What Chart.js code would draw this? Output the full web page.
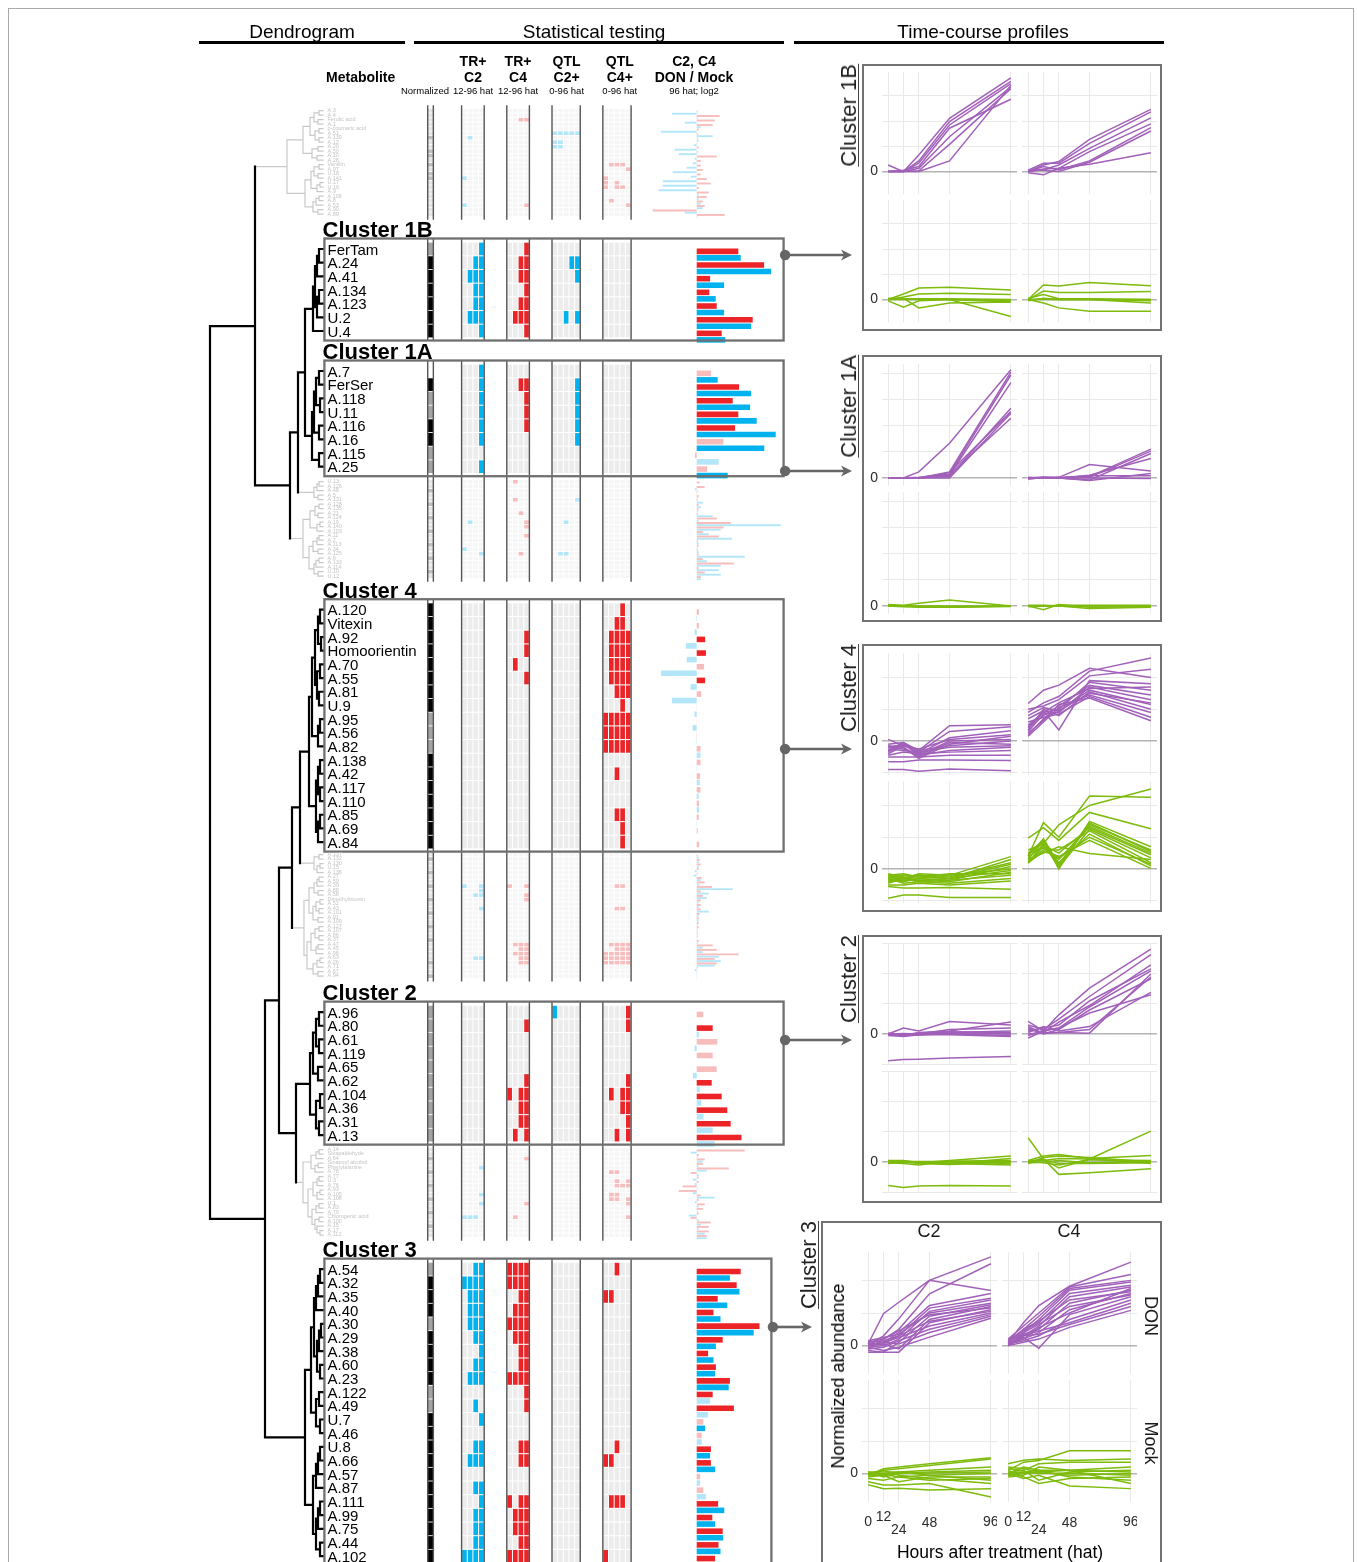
<!DOCTYPE html>
<html>
<head>
<meta charset="utf-8">
<title>Metabolite clusters</title>
<script src="https://cdn.jsdelivr.net/npm/chart.js@4.4.1/dist/chart.umd.min.js"></script>
<style>
  html, body { margin: 0; padding: 0; background: #fff; }
  #page { position: relative; width: 1357px; height: 1562px; overflow: hidden;
          font-family: "Liberation Sans", Arial, sans-serif; color: #000; }
  #page div, #page canvas { position: absolute; }
  .t { white-space: nowrap; line-height: 1; }
</style>
</head>
<body>
<div id="page"></div>
<script>
// ---------- data ----------
// row = [label, normalized class, TR+C2, TR+C4, QTL C2+, QTL C4+, DON/Mock C4 (red), DON/Mock C2 (blue), significance red/blue]
const cluster1B = [
  ['FerTam', 1, '0001', '0001', '00000', '00000', 2.08, 2.2, 'SS'],
  ['A.24', 2, '0011', '0011', '00011', '00000', 3.37, 3.72, 'SS'],
  ['A.41', 2, '0111', '0011', '00001', '00000', 0.67, 1.37, 'SS'],
  ['A.134', 2, '0011', '0001', '00000', '00000', 0.63, 0.95, 'SS'],
  ['A.123', 2, '0011', '0011', '00000', '00000', 1.0, 1.37, 'SS'],
  ['U.2', 2, '0111', '0111', '00101', '00000', 2.8, 2.72, 'SS'],
  ['U.4', 2, '0001', '0001', '00000', '00000', 1.25, 1.43, 'SS']
];
const cluster1A = [
  ['A.7', 0, '0001', '0000', '00000', '00000', 0.72, 1.05, 'sS'],
  ['FerSer', 2, '0001', '0011', '00001', '00000', 2.12, 2.72, 'SS'],
  ['A.118', 1, '0001', '0001', '00001', '00000', 1.8, 2.67, 'SS'],
  ['U.11', 1, '0001', '0001', '00001', '00000', 2.08, 3.0, 'SS'],
  ['A.116', 2, '0001', '0001', '00001', '00000', 1.92, 3.95, 'SS'],
  ['A.16', 2, '0001', '0000', '00001', '00000', 1.33, 3.38, 'sS'],
  ['A.115', 1, '0000', '0000', '00000', '00000', -0.08, 1.1, 'ss'],
  ['A.25', 1, '0001', '0000', '00000', '00000', 0.52, 1.55, 'sS']
];
const cluster4 = [
  ['A.120', 2, '0000', '0000', '00000', '00010', 0.11, -0.03, 'ss'],
  ['Vitexin', 2, '0000', '0000', '00000', '00110', 0.11, -0.11, 'ss'],
  ['A.92', 2, '0000', '0001', '00000', '01111', 0.42, -0.54, 'Ss'],
  ['Homoorientin', 2, '0000', '0001', '00000', '01111', 0.46, -0.5, 'Ss'],
  ['A.70', 2, '0000', '0100', '00000', '01111', 0.37, -1.78, 'ss'],
  ['A.55', 2, '0000', '0001', '00000', '01111', 0.42, -0.31, 'Ss'],
  ['A.81', 2, '0000', '0000', '00000', '00111', 0.23, -1.24, 'ss'],
  ['U.9', 2, '0000', '0000', '00000', '00010', 0.01, -0.11, 'ss'],
  ['A.95', 1, '0000', '0000', '00000', '11111', 0.01, -0.21, 'ss'],
  ['A.56', 1, '0000', '0000', '00000', '11111', 0.02, -0.02, 'ss'],
  ['A.82', 1, '0000', '0000', '00000', '11111', 0.19, 0.19, 'ss'],
  ['A.138', 2, '0000', '0000', '00000', '00000', 0.19, 0.02, 'ss'],
  ['A.42', 2, '0000', '0000', '00000', '00100', 0.17, 0.15, 'ss'],
  ['A.117', 2, '0000', '0000', '00000', '00000', 0.19, 0.1, 'ss'],
  ['A.110', 2, '0000', '0000', '00000', '00000', 0.12, 0.12, 'ss'],
  ['A.85', 2, '0000', '0000', '00000', '00110', 0.1, 0.02, 'ss'],
  ['A.69', 2, '0000', '0000', '00000', '00010', 0.05, 0.0, 'ss'],
  ['A.84', 2, '0000', '0000', '00000', '00010', 0.12, 0.0, 'ss']
];
const cluster2 = [
  ['A.96', 1, '0000', '0000', '10000', '00001', 0.33, 0.0, 'ss'],
  ['A.80', 1, '0000', '0001', '00000', '00001', 0.8, 0.11, 'Ss'],
  ['A.61', 1, '0000', '0000', '00000', '00000', 1.03, -0.11, 'ss'],
  ['A.119', 1, '0000', '0000', '00000', '00000', 0.8, 0.0, 'ss'],
  ['A.65', 1, '0000', '0000', '00000', '00000', 1.0, -0.19, 'ss'],
  ['A.62', 1, '0000', '0001', '00000', '00001', 0.75, 0.15, 'Ss'],
  ['A.104', 1, '0000', '1011', '00000', '01011', 1.25, 0.23, 'Ss'],
  ['A.36', 1, '0000', '0011', '00000', '00011', 1.53, 0.34, 'Ss'],
  ['A.31', 1, '0000', '0011', '00000', '00001', 1.7, 0.8, 'Ss'],
  ['A.13', 1, '0000', '0101', '00000', '00101', 2.24, 0.9, 'Ss']
];
const cluster3 = [
  ['A.54', 1, '0011', '1111', '00000', '00100', 2.2, 1.66, 'SS'],
  ['A.32', 2, '1111', '1111', '00000', '00000', 2.0, 2.14, 'SS'],
  ['A.35', 2, '0111', '0011', '00000', '11000', 1.05, 1.53, 'SS'],
  ['A.40', 2, '0111', '0111', '00000', '00000', 0.84, 1.19, 'SS'],
  ['A.30', 1, '0111', '1111', '00000', '00000', 3.14, 2.85, 'SS'],
  ['A.29', 2, '0011', '0111', '00000', '00000', 1.3, 0.96, 'SS'],
  ['A.38', 2, '0001', '0011', '00000', '00000', 0.57, 0.84, 'SS'],
  ['A.60', 2, '0011', '0011', '00000', '00000', 0.96, 0.92, 'SS'],
  ['A.23', 2, '0111', '1111', '00000', '00000', 1.66, 1.6, 'SS'],
  ['A.122', 1, '0000', '0001', '00000', '00000', 0.8, 0.67, 'Ss'],
  ['A.49', 1, '0010', '0001', '00000', '00000', 1.86, 0.57, 'Ss'],
  ['U.7', 2, '0001', '0000', '00000', '00000', 0.33, 0.42, 'sS'],
  ['A.46', 2, '0000', '0000', '00000', '00000', 0.25, 0.25, 'ss'],
  ['U.8', 2, '0011', '0011', '00000', '00100', 0.71, 0.67, 'SS'],
  ['A.66', 2, '0111', '0011', '00000', '11000', 0.71, 0.92, 'SS'],
  ['A.57', 2, '0000', '0000', '00000', '00000', 0.17, 0.17, 'ss'],
  ['A.87', 2, '0011', '0000', '00000', '00000', 0.33, 0.46, 'ss'],
  ['A.111', 2, '0001', '1011', '00000', '01110', 1.07, 1.38, 'SS'],
  ['A.99', 2, '0011', '0111', '00000', '00000', 0.78, 0.92, 'SS'],
  ['A.75', 2, '0011', '0111', '00000', '00000', 1.3, 1.32, 'SS'],
  ['A.44', 2, '0011', '0011', '00000', '00000', 1.09, 1.19, 'SS'],
  ['A.102', 2, '1111', '1111', '00000', '10000', 0.92, 0.84, 'SS']
];
// unclustered (grey) groups
const grayG1 = [
  ['A.3', 0, '0000', '0000', '00000', '00000', 0.05, -1.24],
  ['A.4', 0, '0000', '0000', '00000', '00000', 1.15, 0.05],
  ['Ferulic acid', 0, '0000', '0011', '00000', '00000', 0.9, -0.6],
  ['A.1', 0, '0000', '0000', '00000', '00000', 0.8, 0.2],
  ['p-coumaric acid', 0, '0000', '0000', '00000', '00000', 0.1, -1.8],
  ['A.51', 0, '0000', '0000', '11111', '00000', 0.05, 0.8],
  ['A.139', 1, '0100', '0000', '00000', '00000', 0.05, 0.1],
  ['A.12', 0, '0000', '0000', '11000', '00000', 0.02, -0.15],
  ['A.20', 0, '0000', '0000', '11000', '00000', 0.1, -1.1],
  ['A.50', 1, '0000', '0000', '00000', '00000', 0.05, -0.9],
  ['A.10', 1, '0000', '0000', '00000', '00000', 1.0, -0.1],
  ['A.28', 0, '0000', '0000', '00000', '00000', 0.2, -0.2],
  ['Vanillin', 1, '0000', '0000', '00000', '01110', 0.2, -0.5],
  ['A.97', 0, '0000', '0000', '00000', '00001', 0.3, -1.2],
  ['U.18', 1, '0000', '0000', '00000', '00000', 0.2, -0.3],
  ['A.141', 1, '1000', '0000', '00000', '10000', 0.5, -1.7],
  ['U.17', 0, '0000', '0000', '00000', '10100', 0.7, -1.7],
  ['U.16', 0, '0000', '0000', '00000', '10110', 0.1, -1.9],
  ['A.9', 0, '0000', '0000', '00000', '00000', 0.6, 0.1],
  ['A.106', 0, '0000', '0000', '00000', '00000', 0.5, 0.1],
  ['A.8', 0, '0000', '0000', '00000', '01000', 0.3, 0.2],
  ['A.53', 0, '1000', '0001', '00000', '00001', 0.4, 0.3],
  ['A.90', 0, '0000', '0000', '00000', '00000', -2.2, -0.6],
  ['A.89', 0, '0000', '0000', '00000', '00000', 1.4, 0.05]
];
const grayG2 = [
  ['U.13', 0, '0000', '0100', '00000', '00000', 0.15, 0.0],
  ['A.126', 0, '0000', '0000', '00000', '00000', 0.4, -0.1],
  ['A.48', 1, '0000', '0000', '00000', '00000', 0.05, 0.02],
  ['A.5', 0, '0000', '0000', '00000', '00000', 0.1, 0.05],
  ['A.131', 0, '0000', '0100', '00001', '00000', 0.05, 0.3],
  ['A.128', 1, '0000', '0000', '00000', '00000', 0.1, 0.2],
  ['A.135', 0, '0000', '0000', '00000', '00000', 0.1, 0.05],
  ['A.21', 0, '0000', '0010', '00000', '00000', 0.05, 0.8],
  ['A.124', 1, '0000', '0000', '00000', '00000', 1.0, 0.1],
  ['A.19', 0, '0100', '0001', '00100', '00000', 1.7, 4.2],
  ['A.140', 0, '0000', '0001', '00000', '00000', 1.35, 1.2],
  ['A.103', 1, '0000', '0000', '00000', '00000', 0.3, 0.6],
  ['A.11', 0, '0000', '0001', '00000', '00000', 1.1, 1.76],
  ['A.2', 0, '0000', '0000', '00000', '00000', 0.05, 0.1],
  ['A.113', 1, '0000', '0000', '00000', '00000', 0.1, 0.05],
  ['A.34', 0, '1000', '0000', '00000', '00000', 0.05, 0.1],
  ['A.125', 0, '0001', '0010', '01100', '00000', 0.1, 2.4],
  ['A.6', 1, '0000', '0000', '00000', '00000', 0.3, 0.5],
  ['A.133', 0, '0000', '0000', '00000', '00000', 1.85, 1.2],
  ['A.114', 0, '0000', '0000', '00000', '00000', 0.1, 1.1],
  ['U.10', 1, '0000', '0000', '00000', '00000', 0.4, 1.2],
  ['U.12', 0, '0000', '0000', '00000', '00000', 0.2, 0.2]
];
const grayG3 = [
  ['A.137', 0, '0000', '0000', '00000', '00000', 0.05, 0.1],
  ['A.132', 1, '0000', '0000', '00000', '00000', 0.15, 0.1],
  ['A.130', 0, '0000', '0000', '00000', '00000', 0.2, 0.1],
  ['U.15', 0, '0000', '0000', '00000', '00000', 0.1, -0.1],
  ['A.136', 1, '0000', '0000', '00000', '00000', 0.05, -0.15],
  ['A.27', 0, '0000', '0000', '00000', '00000', 0.25, 0.2],
  ['A.59', 0, '0000', '0000', '00000', '00000', 0.4, 0.15],
  ['A.39', 1, '1001', '1001', '00000', '00110', 0.77, 1.8],
  ['A.88', 0, '0001', '0000', '00000', '00000', 0.2, 0.6],
  ['A.58', 0, '0011', '0001', '00000', '00000', 0.3, 0.5],
  ['Dimethyltricetin', 1, '0000', '0001', '00000', '00000', 0.2, 0.1],
  ['A.52', 0, '0000', '0000', '00000', '00000', 0.2, 0.1],
  ['A.43', 0, '0001', '0000', '00000', '00110', 0.2, 0.6],
  ['A.101', 1, '0000', '0000', '00000', '00000', 0.15, 0.1],
  ['A.91', 0, '0000', '0000', '00000', '00000', 0.1, 0.1],
  ['A.109', 0, '0000', '0000', '00000', '00000', 0.1, 0.05],
  ['A.127', 1, '0000', '0000', '00000', '00000', 0.1, 0.05],
  ['A.107', 0, '0000', '0000', '00000', '00000', 0.05, 0.05],
  ['A.86', 0, '0000', '0000', '00000', '00000', 0.05, 0.02],
  ['A.37', 1, '0000', '0000', '00000', '00000', 0.1, 0.05],
  ['A.47', 0, '0000', '0111', '00000', '01111', 0.8, 0.3],
  ['A.45', 0, '0000', '0011', '00000', '00111', 1.0, 0.3],
  ['A.98', 0, '0000', '0111', '00000', '11111', 2.1, 1.1],
  ['A.63', 0, '0011', '0011', '00000', '11111', 0.9, 1.2],
  ['A.26', 1, '0000', '0011', '00000', '11111', 1.0, 0.9],
  ['A.71', 0, '0000', '0000', '00000', '00000', 0.05, -0.1],
  ['A.67', 0, '0000', '0000', '00000', '00000', 0.02, 0.02],
  ['A.94', 1, '0000', '0000', '00000', '00000', 0.01, 0.01]
];
const grayG4 = [
  ['A.14', 0, '0000', '0000', '00000', '00000', 2.4, -0.3],
  ['Sinapaldehyde', 0, '0000', '0000', '00000', '00000', 0.1, 0.05],
  ['A.64', 1, '0000', '0001', '00000', '00000', 0.4, 0.3],
  ['Sinapoyl alcohol', 0, '0000', '0000', '00000', '00000', 0.3, 0.1],
  ['Phenylalanine', 0, '0001', '0000', '00000', '00000', 1.6, 0.5],
  ['A.78', 1, '0000', '0000', '00000', '01100', -0.3, 0.1],
  ['A.77', 0, '0000', '0000', '00000', '00000', 0.1, -0.2],
  ['U.3', 0, '0000', '0000', '00000', '00101', 0.1, -0.1],
  ['A.76', 1, '0000', '0000', '00000', '00111', -0.7, 0.05],
  ['A.93', 0, '0000', '0000', '00000', '00000', -0.9, -0.2],
  ['A.105', 0, '0001', '0000', '00000', '01100', 0.2, 0.9],
  ['A.108', 1, '0000', '0000', '00000', '01101', 0.1, -0.1],
  ['U.1', 0, '0001', '0001', '00000', '00001', 0.4, 0.1],
  ['A.83', 0, '0000', '0000', '00000', '00000', 0.3, 0.05],
  ['A.79', 1, '0000', '0000', '00000', '00000', 0.1, -0.4],
  ['Chlorogenic acid', 0, '1110', '0100', '00000', '00001', -0.3, 0.1],
  ['A.100', 0, '0000', '0000', '00000', '00000', 0.7, 0.2],
  ['A.15', 1, '0000', '0000', '00000', '00000', 0.6, 0.1],
  ['A.17', 0, '0000', '0000', '00000', '00000', 0.6, 0.4],
  ['A.112', 0, '0000', '0000', '00000', '00000', 0.5, 0.5]
];

// dendrogram (Newick, merge heights); leaves are row indices of each group
const treeG1 = '(((((0,1)4,(2,3)5)9,((4,5)4,(6,7)4)8)13,((8,9)5,(10,11)6)11)20,((((12,13)4,(14,15)5)9,((16,17)3,18)6)12,(((19,20)4,21)7,(22,23)5)10)18)36';
const treeG2a = '(((0,1)4,2)6,(3,4)5)9';
const treeG2b = '((((0,1)4,(2,3)5)8,((4,5)3,6)6)13,((((7,8)4,9)6,(10,11)5)10,(((12,13)4,14)7,(15,16)5)9)14)20';
const treeG3a = '((0,1)4,((2,3)3,4)6)9';
const treeG3b = '(((((0,1)4,2)6,(3,4)5)9,(((5,6)3,(7,8)4)7,(9,10)5)10)14,((((11,12)4,(13,14)4)8,((15,16)5,17)7)12,(((18,19)3,20)6,(21,22)5)10)16)19';
const treeG4 = '((((0,1)4,2)7,((3,4)5,5)8)12,((((6,7)4,8)6,((9,10)3,11)6)10,(((12,13)4,14)7,((15,16)4,(17,(18,19)3)6)8)11)15)20';
const treeC1B = '((((0,1)4,2)6,((3,4)4,5)6)8,6)10';
const treeC1A = '((((0,1)4,(2,3)3)7,(4,5)4)9,(6,7)4)11';
const treeC4 = '(((((0,1)3,(2,3)2)5,((4,5)3,(6,7)4)6)8,((8,9)3,10)5)11,(((11,12)3,(13,14)3)5,((15,16)3,17)5)7)14';
const treeC2 = '((((0,1)4,(2,3)4)7,(4,5)5)10,((6,7)3,(8,9)4)7)13';
const treeC3 = '((((((0,1)3,2)5,3)7,(((4,5)2,6)4,(7,8)3)6)9,((9,10)4,(11,12)3)7)12,((((13,14)3,15)5,16)7,(((17,18)3,19)5,(20,21)3)7)10)18';
const treeTop = '((G1,(((C1B,C1A)18,G2a)25,G2b)33)68,((((C4,G3a)23,G3b)31,(C2,G4)27)44,C3)58)113';

// time-course profiles (normalized abundance at 0, 12, 24, 48, 96 hat)
const hat = [0, 12, 24, 48, 96];
const c1bDonC2 = [[0,0,0.66,2.11,3.72],[0.26,0,0.42,1.98,3.58],[0,0,0.33,1.85,3.49],[0,0.05,0.2,1.72,2.87],[0,0,0.13,1.38,3.36],[0,0.02,0.03,1.08,3.29],[0,0,0,0.42,3.42]];
const c1bDonC4 = [[0,0.26,0.4,1.28,2.47],[0.05,0.33,0.33,1.12,2.37],[0,0.07,0.26,0.92,2.13],[-0.05,-0.13,0.13,0.79,1.89],[0,0.2,0.07,0.42,1.74],[0.05,0.05,0,0.37,1.61],[0,0.1,0.13,0.29,0.75]];
const c1bMockC2 = [[0,0.22,0.46,0.49,0.38],[0,0.1,0.22,0.25,0.2],[0.05,0.03,0.03,0.03,0],[0,0,0,0,-0.05],[-0.05,-0.3,-0.05,0,-0.1],[0,0.05,-0.33,-0.14,-0.1],[0,0.03,0.02,0,-0.67]];
const c1bMockC4 = [[0,0.58,0.54,0.68,0.55],[0,0.34,0.28,0.28,0.32],[0.05,0.2,0.03,0.03,0],[0,0,0,0,-0.05],[0,-0.14,-0.33,-0.46,-0.46],[-0.05,0.05,0,0,-0.14],[0,0.02,0,0,0]];
const c1aDonC2 = [[0,0,0.23,1.32,4.13],[0,0,0,0.23,4.04],[0,0,0.02,0.15,3.93],[0,0,0,0.1,3.64],[0,0,0,0.05,2.66],[0,0,0,0.2,2.53],[0,0,0,0,2.47],[0,0,0,0.12,2.28]];
const c1aDonC4 = [[0,0.02,0.02,0.51,0.26],[-0.05,0.02,0,0.05,1.1],[0,0,0.02,0.02,1.02],[0,0.02,0,-0.08,0.93],[0,0,0,0.1,0.74],[0.02,0,0,-0.1,0.17],[0,0,0,0.08,0.08],[-0.02,0,0,0,-0.02]];
const c1aMockC2 = [[0.05,0.02,0.1,0.22,0],[0,0,-0.02,-0.05,0],[0,-0.03,-0.05,-0.05,-0.02],[0.02,0,0,0,0]];
const c1aMockC4 = [[0,-0.15,0.05,-0.05,-0.03],[0,0,0,-0.1,-0.05],[0.02,0.02,0,0,0],[-0.03,0,0.02,0.02,0.02]];
const c4DonC2 = [[-0.1,-0.05,-0.3,0.48,0.51],[-0.2,-0.1,-0.35,0.3,0.45],[-0.3,-0.05,-0.4,0.1,0.32],[0.05,-0.15,-0.25,0.05,0.2],[-0.15,-0.2,-0.55,-0.1,0.15],[-0.4,-0.15,-0.3,-0.15,0],[-0.25,-0.3,-0.35,-0.2,-0.15],[-0.35,-0.1,-0.45,-0.3,-0.2],[-0.45,-0.35,-0.4,-0.35,-0.3],[-0.5,-0.5,-0.5,-0.45,-0.45],[-0.65,-0.65,-0.6,-0.6,-0.61],[-0.9,-0.9,-0.95,-0.88,-0.94],[-0.2,-0.25,-0.45,0,0.05],[-0.3,-0.2,-0.5,-0.05,-0.1]];
const c4DonC4 = [[1.18,1.6,1.76,2.29,2.0],[0.9,1.2,1.4,2.2,2.61],[1.0,1.1,1.3,2.05,2.26],[0.7,0.95,0.35,1.9,1.8],[0.5,0.9,1.0,1.85,1.6],[0.4,0.8,1.1,1.75,1.45],[0.3,0.85,0.9,1.7,1.3],[0.2,0.7,0.95,1.6,1.15],[0.35,1.0,0.8,1.55,1.0],[0.15,0.6,1.05,1.45,0.9],[0.6,0.75,0.85,1.4,0.75],[0.25,0.65,1.15,1.35,0.64],[0.45,0.9,1.2,1.65,1.7],[0.8,1.05,0.95,1.5,1.2]];
const c4MockC2 = [[-0.2,-0.3,-0.15,-0.2,0.39],[-0.25,-0.2,-0.25,-0.3,0.3],[-0.3,-0.35,-0.2,-0.25,0.2],[-0.35,-0.4,-0.3,-0.35,0.08],[-0.15,-0.25,-0.3,-0.2,0],[-0.4,-0.35,-0.35,-0.4,-0.1],[-0.3,-0.45,-0.4,-0.35,-0.2],[-0.45,-0.3,-0.4,-0.45,-0.3],[-0.5,-0.5,-0.45,-0.5,-0.38],[-0.55,-0.6,-0.6,-0.58,-0.64],[-0.92,-0.82,-0.82,-0.9,-0.9],[-0.25,-0.3,-0.2,-0.3,-0.05],[-0.35,-0.25,-0.35,-0.3,0.15],[-0.2,-0.15,-0.25,-0.15,-0.15]];
const c4MockC4 = [[0.6,0.8,1.39,2.0,2.52],[0.4,1.46,1.0,2.3,2.26],[0.97,1.3,0.9,1.78,1.27],[0.5,0.9,0,1.5,0.7],[0.3,0.9,0.1,1.4,0.6],[0.2,0.7,0.3,1.35,0.5],[0.35,0.75,0.5,1.3,0.45],[0.18,0.8,0.05,1.25,0.35],[0.25,0.6,0.6,1.2,0.2],[0.45,0.85,0.2,1.1,0.1],[0.2,0.55,0.4,0.9,0.02],[0.3,0.5,0.7,0.49,0.3],[0.4,0.95,0.15,1.45,0.55],[0.5,0.65,0.35,1.0,0.15]];
const c2DonC2 = [[0,0.2,0.1,0.42,0.3],[0.02,-0.05,0.05,0.1,0.4],[0,0,0,0.15,0.2],[-0.05,-0.08,-0.02,0.05,0.1],[0,0.02,0,0.08,0.05],[0.03,-0.05,-0.03,0.02,0],[-0.03,-0.02,0,0,-0.05],[0,-0.05,-0.02,-0.02,-0.08],[0.02,0,0.02,0.05,0.02],[-0.89,-0.85,-0.84,-0.8,-0.75]];
const c2DonC4 = [[0.42,0.1,0.64,1.53,2.83],[0.3,0.15,0.5,1.25,2.64],[0.1,0.2,0.3,1.1,2.17],[0,0.05,0.4,0.95,2.3],[-0.13,0.1,0.2,0.9,2.1],[0.2,0,0.15,0.8,1.84],[0.05,0.25,0.1,0.25,1.39],[0.15,0.05,0.05,0.03,2.0],[-0.05,0.12,0.2,0.7,1.31],[0.25,0.02,0.05,0.15,1.9]];
const c2MockC2 = [[0.05,0.05,-0.02,0.05,0.2],[0.02,0.03,0,-0.05,0.12],[-0.02,-0.05,-0.1,0.03,0.05],[0,0.02,-0.05,-0.08,0],[0.03,-0.02,0,0,-0.05],[-0.05,0,-0.03,-0.05,-0.1],[0,0.02,0.02,0.02,0.02],[-0.78,-0.85,-0.8,-0.78,-0.8]];
const c2MockC4 = [[0.81,0.1,-0.41,-0.36,-0.22],[0.02,0.05,0.12,0.1,1.03],[0.05,0.2,0.25,0.12,0.22],[-0.05,0.15,0.2,0.15,0],[0,-0.02,-0.1,0.08,0.05],[0.02,0.08,-0.05,-0.05,-0.02],[-0.03,0,0.05,-0.02,0.02],[0.03,0.1,-0.2,0.1,-0.05]];
const c3DonC2 = [[0.05,0.98,1.33,2.0,1.69],[0,0.3,0.82,2.0,2.72],[-0.1,0.2,0.5,1.59,2.51],[0,0.1,0.4,1.23,1.6],[0.1,0.15,0.3,1.15,1.45],[-0.05,0,0.2,1.05,1.4],[0.15,0.25,0.35,1.0,1.3],[-0.15,-0.2,0.1,0.9,1.25],[0,0.05,-0.1,0.8,1.2],[-0.2,-0.2,-0.2,0.7,1.1],[0.05,0.1,0.25,0.6,1.0],[-0.1,-0.05,0.15,0.5,0.95],[0,0.1,0.05,0.4,0.9],[-0.05,-0.15,-0.05,0.26,0.84],[0.1,0.2,0.45,0.95,1.15],[0.02,0.05,0.3,0.75,1.05]];
const c3DonC4 = [[0.1,0.7,1.23,1.82,2.56],[0.2,0.6,1.0,1.8,2.18],[0.05,0.5,0.9,1.75,2.0],[0,0.4,0.8,1.7,1.95],[0.15,0.45,0.7,1.6,1.85],[0.05,0.3,0.6,1.5,1.8],[0,0.35,0.5,1.3,1.7],[0.1,0.2,0.4,1.1,1.6],[0,0.25,-0.08,0.95,1.5],[0.05,0.15,0.3,0.8,1.4],[0.2,0.3,0.45,0.7,1.3],[0,0.1,0.2,0.56,1.08],[0.1,0.4,0.65,1.2,1.55],[0.05,0.2,0.55,1.0,1.75],[0.15,0.5,0.75,1.4,1.65],[0,0.3,0.35,0.65,1.2]];
const c3MockC2 = [[-0.05,0.15,0.2,0.3,0.49],[0,0.1,0.15,0.25,0.45],[0.05,0.05,0.05,0.1,0.2],[-0.1,-0.05,0,0.05,0.1],[-0.15,-0.2,-0.1,-0.05,0],[0,-0.05,-0.25,-0.1,-0.1],[-0.34,-0.46,-0.45,-0.5,-0.46],[-0.25,-0.35,-0.35,-0.3,-0.72],[0.02,0,0.05,-0.05,-0.2],[-0.05,0.1,-0.05,-0.15,-0.3],[0.05,-0.1,0,0.02,0.05],[-0.08,-0.02,-0.1,-0.2,-0.15]];
const c3MockC4 = [[0.1,0.35,0.4,0.7,0.7],[0.3,0.41,0.45,0.4,0.45],[0.05,0.1,0.3,0.35,0.35],[0,0.2,0.1,0.1,0.2],[0.15,0.1,-0.2,0.05,0.1],[-0.05,0,0.05,-0.05,0],[0.1,-0.1,-0.3,-0.15,-0.1],[-0.05,0.05,0.1,-0.1,-0.2],[0,-0.15,-0.05,-0.38,-0.46],[0.02,0.05,0,0.02,-0.05],[-0.1,-0.05,0.2,0.1,0.05],[0.2,0.15,0.05,0.1,-0.3]];

// ---------- page helpers ----------
const page = document.getElementById('page');
const W = 1357, H = 1562;
function div(css, text) {
  const d = document.createElement('div');
  d.style.cssText = css;
  if (text !== undefined) { d.className = 't'; d.textContent = text; }
  page.appendChild(d);
  return d;
}
function ctext(text, cx, cy, size, weight, rot, color) {
  return div(`left:${cx}px;top:${cy}px;font-size:${size}px;font-weight:${weight || 'normal'};color:${color || '#000'};` +
             `transform:translate(-50%,-50%)${rot ? ' rotate(' + rot + 'deg)' : ''};`, text);
}

// outer frame
div('left:8px;top:8px;width:1346px;height:1620px;border:1.5px solid #a9a9a9;box-sizing:border-box;');

// ---------- left block: dendrogram, tests, log2 bars ----------
const ROW = 13.67, GROW = 4.5;
const blocks = [
  {id: 'G1', rows: grayG1, gray: true, first: 110.7},
  {id: 'C1B', rows: cluster1B, gray: false, gap: 34.8, title: 'Cluster 1B', arrowY: 255},
  {id: 'C1A', rows: cluster1A, gray: false, gap: 40, title: 'Cluster 1A', arrowY: 471},
  {id: 'G2', rows: grayG2, gray: true, gap: 15},
  {id: 'C4', rows: cluster4, gray: false, gap: 33.5, title: 'Cluster 4', arrowY: 749},
  {id: 'G3', rows: grayG3, gray: true, gap: 12.5},
  {id: 'C2', rows: cluster2, gray: false, gap: 36, title: 'Cluster 2', arrowY: 1040},
  {id: 'G4', rows: grayG4, gray: true, gap: 14.5},
  {id: 'C3', rows: cluster3, gray: false, gap: 34, title: 'Cluster 3', arrowY: 1327, boxRight: 771.4, tip: 812}
];
let cursor = null;
blocks.forEach(b => {
  const step = b.gray ? GROW : ROW;
  const first = cursor === null ? b.first : cursor + b.gap;
  b.ys = b.rows.map((r, i) => first + i * step);
  cursor = b.ys[b.ys.length - 1];
  b.top = b.gray ? b.ys[0] - 5.5 : b.ys[0] - 10.5;
  b.bottom = b.gray ? cursor + 5.5 : cursor + 9.5;
});
const byId = {};
blocks.forEach(b => { byId[b.id] = b; });

// dendrogram parsing
function parseTree(str, leaf) {
  let i = 0;
  function node() {
    if (str[i] === '(') {
      i++;
      const a = node(); i++;
      const b = node(); i++;
      let num = '';
      while (i < str.length && /[0-9.]/.test(str[i])) num += str[i++];
      return {h: parseFloat(num), kids: [a, b], y: (a.y + b.y) / 2, gray: a.gray && b.gray};
    }
    let tok = '';
    while (i < str.length && /[A-Za-z0-9]/.test(str[i])) tok += str[i++];
    return leaf(tok);
  }
  return node();
}
function groupTree(blockId, offset, str) {
  const b = byId[blockId];
  return parseTree(str, tok => ({h: 0, y: b.ys[offset + parseInt(tok, 10)], gray: b.gray}));
}
const subTrees = {
  G1: groupTree('G1', 0, treeG1), G2a: groupTree('G2', 0, treeG2a), G2b: groupTree('G2', 5, treeG2b),
  G3a: groupTree('G3', 0, treeG3a), G3b: groupTree('G3', 5, treeG3b), G4: groupTree('G4', 0, treeG4),
  C1B: groupTree('C1B', 0, treeC1B), C1A: groupTree('C1A', 0, treeC1A), C4: groupTree('C4', 0, treeC4),
  C2: groupTree('C2', 0, treeC2), C3: groupTree('C3', 0, treeC3)
};
const root = parseTree(treeTop, tok => subTrees[tok]);
const segBlack = [], segGray = [];
const gap = () => ({x: null, y: null});
(function walk(n) {
  if (!n.kids) return;
  n.kids.forEach(walk);
  (n.gray ? segGray : segBlack).push({x: n.h, y: n.kids[0].y}, {x: n.h, y: n.kids[1].y}, gap());
  n.kids.forEach(k => (k.gray ? segGray : segBlack).push({x: k.h, y: k.y}, {x: n.h, y: k.y}, gap()));
})(root);

// heat cells, normalized column and log2 bars
const blue = '#00b3ee', red = '#ec2327', paleBlue = '#b4e6f9', paleRed = '#f7bcbc';
const testCols = [{f: 2, slot: 6, c: 'b'}, {f: 3, slot: 14, c: 'r'}, {f: 4, slot: 22, c: 'b'}, {f: 5, slot: 31, c: 'r'}];
const normColors = {clu: ['#ffffff', '#a3a3a3', '#000000'], gray: ['#e4e4e4', '#bfbfbf', '#9a9a9a']};
function bucket() { return {bg: [], hit: [], hitCol: [], norm: [], normCol: [], red: [], redCol: [], blue: [], blueCol: []}; }
const K = bucket(), G = bucket();
const colLines = [];
const lineSlots = [0, 1, 6, 10, 14, 18, 22, 27, 31, 36];
blocks.forEach(b => {
  const grp = b.gray ? G : K;
  b.rows.forEach((r, i) => {
    const y = b.ys[i];
    testCols.forEach(col => {
      r[col.f].split('').forEach((ch, k) => {
        const x0 = col.slot + k + 0.09, x1 = col.slot + k + 0.91;
        grp.bg.push({x: [x0, x1], y});
        if (ch === '1') {
          grp.hit.push({x: [x0, x1], y});
          grp.hitCol.push(b.gray ? (col.c === 'b' ? paleBlue : paleRed) : (col.c === 'b' ? blue : red));
        }
      });
    });
    grp.norm.push({x: [0, 1], y});
    grp.normCol.push(normColors[b.gray ? 'gray' : 'clu'][r[1]]);
    const off = b.gray ? 1.1 : 3.25;
    const sig = r[8] || 'ss';
    grp.red.push({x: [0, r[6]], y: y - off});
    grp.redCol.push(!b.gray && sig[0] === 'S' ? red : paleRed);
    grp.blue.push({x: [0, r[7]], y: y + off});
    grp.blueCol.push(!b.gray && sig[1] === 'S' ? blue : paleBlue);
  });
  lineSlots.forEach(s => colLines.push({x: s, y: b.top}, {x: s, y: b.bottom}, gap()));
});

function bars(data, colors, thick, xAxis) {
  return {type: 'bar', indexAxis: 'y', xAxisID: xAxis, yAxisID: 'y', data, backgroundColor: colors,
          borderWidth: 0, barThickness: thick, stack: 'one', inflateAmount: 0};
}
function lines(data, color, width, xAxis, cap) {
  return {type: 'line', xAxisID: xAxis, yAxisID: 'y', data, borderColor: color, borderWidth: width,
          pointRadius: 0, pointHoverRadius: 0, spanGaps: false, tension: 0, fill: false,
          borderCapStyle: cap, borderJoinStyle: 'miter'};
}

const BOX_LEFT = 324.4, BOX_RIGHT = 783.6;
const boxesPlugin = {
  id: 'boxes',
  afterDatasetsDraw(chart) {
    const {ctx} = chart;
    const y = chart.scales.y;
    ctx.save();
    blocks.filter(b => !b.gray).forEach(b => {
      const right = b.boxRight || BOX_RIGHT;
      const t = y.getPixelForValue(b.top), bt = y.getPixelForValue(b.bottom);
      ctx.strokeStyle = '#707070';
      ctx.lineWidth = 2.3;
      ctx.strokeRect(BOX_LEFT, t, right - BOX_LEFT, bt - t);
      const ay = b.arrowY, tip = b.tip || 852;
      ctx.strokeStyle = '#666'; ctx.fillStyle = '#666'; ctx.lineWidth = 2.6;
      ctx.beginPath(); ctx.moveTo(right + 1, ay); ctx.lineTo(tip - 8, ay); ctx.stroke();
      ctx.beginPath(); ctx.arc(right + 1.5, ay, 5.2, 0, Math.PI * 2); ctx.fill();
      ctx.beginPath(); ctx.moveTo(tip, ay); ctx.lineTo(tip - 11, ay - 5.5); ctx.lineTo(tip - 8, ay); ctx.lineTo(tip - 11, ay + 5.5); ctx.closePath(); ctx.fill();
    });
    ctx.restore();
  }
};

const leftCanvas = document.createElement('canvas');
leftCanvas.width = W; leftCanvas.height = H;
leftCanvas.style.left = '0px'; leftCanvas.style.top = '0px';
page.appendChild(leftCanvas);

new Chart(leftCanvas, {
  type: 'scatter',
  data: {
    datasets: [
      lines(segBlack, '#000', 2.2, 'xTree', 'square'),
      lines(segGray, '#c9c9c9', 1.2, 'xTree', 'square'),
      lines(colLines, '#555', 1.4, 'xCell', 'butt'),
      bars(K.hit, K.hitCol, 12.6, 'xCell'),
      bars(G.hit, G.hitCol, 3.6, 'xCell'),
      bars(K.norm, K.normCol, 12.8, 'xCell'),
      bars(G.norm, G.normCol, 3.7, 'xCell'),
      bars(K.red, K.redCol, 5.6, 'xBar'),
      bars(K.blue, K.blueCol, 5.6, 'xBar'),
      bars(G.red, G.redCol, 1.9, 'xBar'),
      bars(G.blue, G.blueCol, 1.9, 'xBar'),
      bars(K.bg, '#ececec', 12.6, 'xCell'),
      bars(G.bg, '#f6f6f6', 3.6, 'xCell')
    ]
  },
  options: {
    animation: false, responsive: false, events: [],
    layout: {padding: 0},
    plugins: {legend: {display: false}, tooltip: {enabled: false}},
    scales: {
      xTree: {type: 'linear', axis: 'x', display: false, reverse: true, min: 323 - W, max: 323},
      xCell: {type: 'linear', axis: 'x', display: false, stacked: false, min: -427.7 / 5.65, max: (W - 427.7) / 5.65},
      xBar: {type: 'linear', axis: 'x', display: false, stacked: false, min: -696.7 / 20, max: (W - 696.7) / 20},
      y: {type: 'linear', axis: 'y', display: false, reverse: true, offset: false, grid: {offset: false}, min: 0, max: H}
    }
  },
  plugins: [boxesPlugin]
});

// row labels and cluster titles
blocks.forEach(b => {
  b.rows.forEach((r, i) => {
    if (b.gray) {
      div(`left:327.5px;top:${b.ys[i] - 2.7}px;font-size:5.5px;line-height:5.5px;color:#c4c4c4;`, r[0]);
    } else {
      div(`left:327.5px;top:${b.ys[i] - 7.4}px;font-size:15px;line-height:15px;color:#000;`, r[0]);
    }
  });
  if (b.title) {
    div(`left:322.5px;top:${b.top - 19.5}px;font-size:22px;line-height:22px;font-weight:bold;`, b.title);
  }
});

// section headers
ctext('Dendrogram', 302, 31, 19);
ctext('Statistical testing', 594, 31, 19);
ctext('Time-course profiles', 983, 31, 19);
div('left:199px;top:41px;width:206px;height:2.6px;background:#000;');
div('left:414px;top:41px;width:370px;height:2.6px;background:#000;');
div('left:794px;top:41px;width:370px;height:2.6px;background:#000;');

// column headers
ctext('Metabolite', 360.7, 77, 14, 'bold');
[['TR+', 'C2', '12-96 hat', 473], ['TR+', 'C4', '12-96 hat', 518], ['QTL', 'C2+', '0-96 hat', 566.6],
 ['QTL', 'C4+', '0-96 hat', 619.8], ['C2, C4', 'DON / Mock', '96 hat; log2', 694]].forEach(h => {
  ctext(h[0], h[3], 60.5, 14, 'bold');
  ctext(h[1], h[3], 76.5, 14, 'bold');
  ctext(h[2], h[3], 91, 9.5);
});
ctext('Normalized', 425, 91, 9.5);

// ---------- time-course panels ----------
const purple = '#a160b9', green = '#7dbb0c';
const hourLabels = ['0', '12', '24', '48', '96'];
const hourShift = [0, -5, 8, 1.5, 0];
const panelText = {
  id: 'panelText',
  afterDraw(chart, args, opts) {
    const {ctx, chartArea, scales} = chart;
    ctx.save();
    ctx.fillStyle = '#2b2b2b';
    ctx.font = '14px "Liberation Sans", Arial, sans-serif';
    ctx.textBaseline = 'middle';
    if (opts.zero) {
      ctx.textAlign = 'right';
      ctx.fillText('0', chartArea.left - 4, scales.y.getPixelForValue(0));
    }
    if (opts.hours) {
      ctx.textAlign = 'center';
      hourLabels.forEach((lab, i) => ctx.fillText(lab, scales.x.getPixelForValue(hat[i]), chartArea.bottom + 20 + hourShift[i]));
    }
    ctx.restore();
  }
};
const PW = 135, PH = 122, PDX = 140, PDY = 128;
function panel(series, color, x, y, yMin, yMax, zero, hours) {
  const ml = zero ? 26 : 0, mb = hours ? 40 : 0;
  const c = document.createElement('canvas');
  c.width = PW + ml; c.height = PH + mb;
  c.style.left = (x - ml) + 'px'; c.style.top = y + 'px';
  page.appendChild(c);
  const yTicks = [];
  for (let v = Math.ceil(yMin); v <= Math.floor(yMax); v++) yTicks.push({value: v});
  new Chart(c, {
    type: 'scatter',
    data: {
      datasets: series.map(v => ({
        data: hat.map((h, i) => ({x: h, y: v[i]})),
        showLine: true, borderColor: color, borderWidth: 1.5,
        pointRadius: 0, pointHoverRadius: 0, tension: 0, fill: false
      }))
    },
    options: {
      animation: false, responsive: false, events: [],
      layout: {padding: 0},
      plugins: {legend: {display: false}, tooltip: {enabled: false}, panelText: {zero, hours}},
      scales: {
        x: {type: 'linear', min: -4.8, max: 100.8,
            afterBuildTicks: s => { s.ticks = hat.map(v => ({value: v})); },
            afterFit: s => { s.height = mb; },
            ticks: {display: false}, border: {display: false},
            grid: {color: '#e9e9e9', lineWidth: 1, drawTicks: false}},
        y: {type: 'linear', min: yMin, max: yMax,
            afterBuildTicks: s => { s.ticks = yTicks.map(t => ({value: t.value})); },
            afterFit: s => { s.width = ml; },
            ticks: {display: false}, border: {display: false},
            grid: {drawTicks: false,
                   color: ctx => (ctx.tick && ctx.tick.value === 0 ? '#b4b4b4' : '#e9e9e9'),
                   lineWidth: ctx => (ctx.tick && ctx.tick.value === 0 ? 1.4 : 1)}}
      }
    },
    plugins: [panelText]
  });
}
const clusterPanels = [
  {x: 882, y: 72, yMin: -0.89, yMax: 3.95, don: [c1bDonC2, c1bDonC4], mock: [c1bMockC2, c1bMockC4], box: [862, 64, 300, 267], label: 'Cluster 1B', lx: 839},
  {x: 882, y: 364, yMin: -0.31, yMax: 4.35, don: [c1aDonC2, c1aDonC4], mock: [c1aMockC2, c1aMockC4], box: [862, 355, 300, 267], label: 'Cluster 1A', lx: 839},
  {x: 882, y: 653, yMin: -1.07, yMax: 2.77, don: [c4DonC2, c4DonC4], mock: [c4MockC2, c4MockC4], box: [862, 644, 300, 268], label: 'Cluster 4', lx: 839},
  {x: 882, y: 943, yMin: -1.03, yMax: 3.03, don: [c2DonC2, c2DonC4], mock: [c2MockC2, c2MockC4], box: [862, 935, 300, 268], label: 'Cluster 2', lx: 839},
  {x: 862, y: 1252, yMin: -0.87, yMax: 2.87, don: [c3DonC2, c3DonC4], mock: [c3MockC2, c3MockC4], box: [821, 1221, 341, 420], label: 'Cluster 3', lx: 799, last: true}
];
clusterPanels.forEach(p => {
  div(`left:${p.box[0]}px;top:${p.box[1]}px;width:${p.box[2]}px;height:${p.box[3]}px;border:2px solid #727272;box-sizing:border-box;`);
  panel(p.don[0], purple, p.x, p.y, p.yMin, p.yMax, true, false);
  panel(p.don[1], purple, p.x + PDX, p.y, p.yMin, p.yMax, false, false);
  panel(p.mock[0], green, p.x, p.y + PDY, p.yMin, p.yMax, true, !!p.last);
  panel(p.mock[1], green, p.x + PDX, p.y + PDY, p.yMin, p.yMax, false, !!p.last);
  div(`left:${p.lx}px;top:${p.box[1]}px;font-size:22px;line-height:19px;color:#222;border-bottom:1.5px solid #444;` +
      `white-space:nowrap;transform-origin:0 0;transform:rotate(-90deg) translateX(-100%);`).textContent = p.label;
});

// facet strips and axis titles of the last block
ctext('C2', 929, 1231, 18, 'normal', 0, '#1a1a1a');
ctext('C4', 1069, 1231, 18, 'normal', 0, '#1a1a1a');
ctext('DON', 1151, 1316, 18, 'normal', 90, '#1a1a1a');
ctext('Mock', 1151, 1443, 18, 'normal', 90, '#1a1a1a');
ctext('Normalized abundance', 838, 1376, 18, 'normal', -90);
ctext('Hours after treatment (hat)', 1000, 1553, 17.5);
</script>
</body>
</html>
